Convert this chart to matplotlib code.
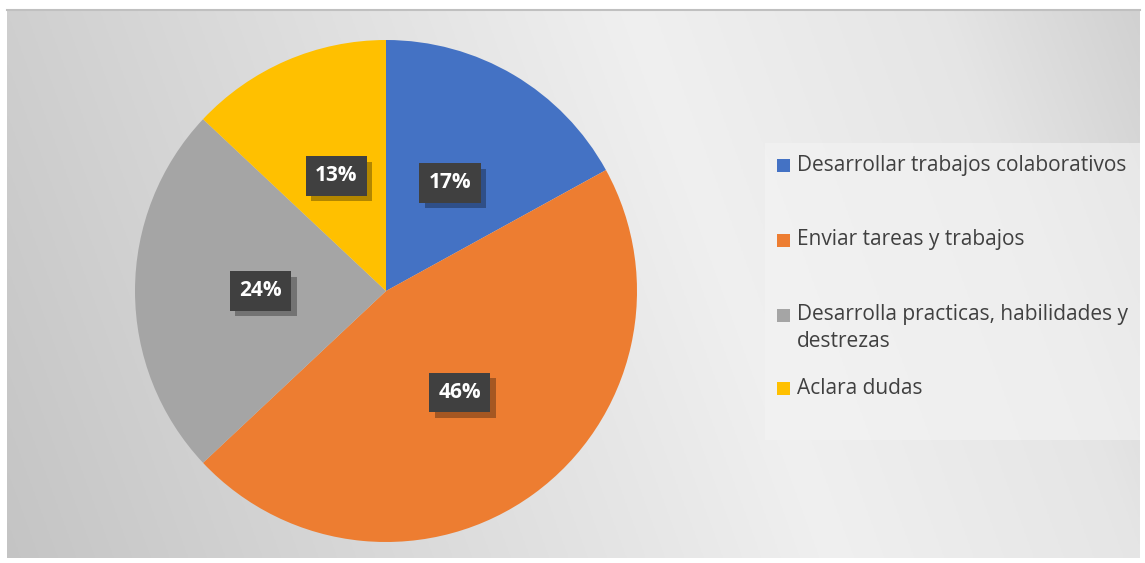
import numpy as np
import matplotlib.pyplot as plt
import matplotlib.patheffects as pe
from matplotlib.patches import Rectangle

labels = ['Desarrollar trabajos colaborativos', 'Enviar tareas y trabajos',
          'Desarrolla practicas, habilidades y\ndestrezas', 'Aclara dudas']
values = [17, 46, 24, 13]
colors = ['#4472c4', '#ed7d31', '#a5a5a5', '#ffc000']

W, H = 1145, 563
plt.rcParams['font.family'] = ['Open Sans', 'DejaVu Sans']

fig = plt.figure(figsize=(W / 100, H / 100), dpi=100)
fig.patch.set_facecolor('white')

# chart area with a soft grey gradient
bg = fig.add_axes([7 / W, 5 / H, 1133 / W, 548 / H])
xs = np.linspace(0, 1, 400)
ys = np.linspace(0, 1, 200)
gx, gy = np.meshgrid(xs, ys)
t = gx * 0.85 + (1 - gy) * 0.15
shade = np.interp(t, [0, 0.25, 0.62, 0.85, 1.0], [0.77, 0.84, 0.94, 0.90, 0.82])
bg.imshow(np.dstack([shade] * 3), aspect='auto', extent=[0, 1, 0, 1], origin='upper')
bg.set_xlim(0, 1)
bg.set_ylim(0, 1)
bg.set_xticks([])
bg.set_yticks([])
for s in bg.spines.values():
    s.set_visible(False)
bg.spines['top'].set_visible(True)
bg.spines['top'].set_color('#c0c0c0')
bg.spines['top'].set_linewidth(1.5)

# pie
cx, cy, r = 386, H - 291, 251
ax = fig.add_axes([(cx - r) / W, (cy - r) / H, 2 * r / W, 2 * r / H])
wedges, _ = ax.pie(values, colors=colors, startangle=90, counterclock=False,
                   radius=1.0, wedgeprops=dict(linewidth=0))
ax.set_xlim(-1, 1)
ax.set_ylim(-1, 1)
ax.set_aspect('equal')
ax.axis('off')

# percentage labels in dark boxes with a drop shadow
start = 90.0
for v in values:
    mid = np.deg2rad(start - v / sum(values) * 360 / 2)
    start -= v / sum(values) * 360
    px, py = 0.5 * np.cos(mid), 0.5 * np.sin(mid)
    t = ax.annotate(f'{v}%', (px, py), ha='center', va='center', fontsize=15,
                    fontweight='bold', color='white',
                    bbox=dict(boxstyle='square,pad=0.45', fc='#404040', ec='none', lw=0))
    t.get_bbox_patch().set_path_effects([
        pe.SimplePatchShadow(offset=(4, -4), shadow_rgbFace='black', alpha=0.3),
        pe.Normal()])

# legend panel
fig.patches.append(Rectangle((765 / W, (H - 440) / H), 375 / W, 297 / H,
                             transform=fig.transFigure, fc='#f4f4f4', alpha=0.6,
                             ec='none', zorder=1))
rows = [165, 240, 315, 388]
for lab, col, y in zip(labels, colors, rows):
    fig.patches.append(Rectangle((777 / W, (H - y - 6.5) / H), 13 / W, 13 / H,
                                 transform=fig.transFigure, fc=col, ec='none', zorder=2))
    ty = y + 13 if '\n' in lab else y
    fig.text(797 / W, (H - ty) / H, lab, ha='left', va='center',
             fontsize=15, color='#404040', linespacing=1.34, zorder=3)

fig.savefig('out.png', dpi=100)
